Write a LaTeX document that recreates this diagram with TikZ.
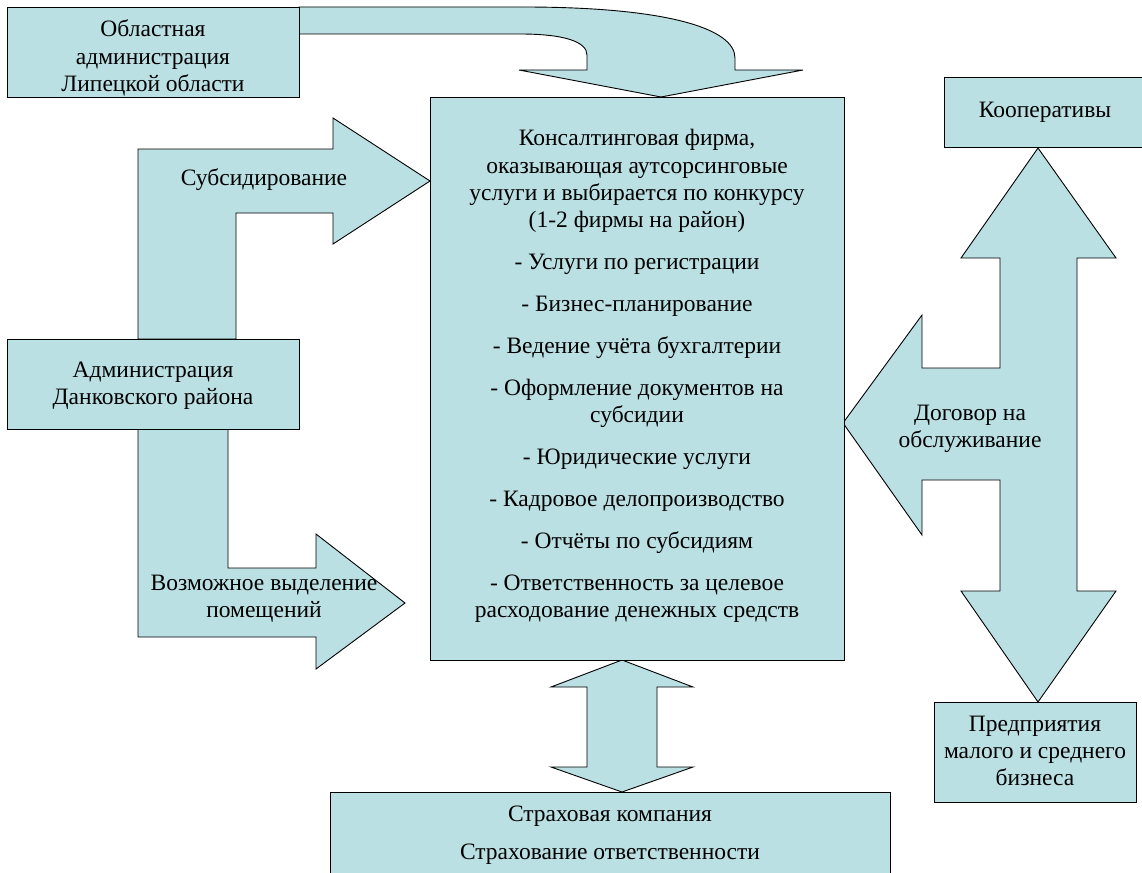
\documentclass[tikz,border=0pt]{standalone}
\usepackage{fontspec}
\setmainfont{Liberation Serif}
\definecolor{fillc}{RGB}{187,224,227}
\newcommand\fsz{\fontsize{23.5}{27.3}\selectfont}
\begin{document}
\begin{tikzpicture}[x=1pt,y=-1pt,
  shp/.style={fill=fillc, draw=black, line width=0.9pt, line join=miter},
  box/.style={shp, rectangle, inner sep=0pt, align=center, font=\fsz},
  lbl/.style={align=center, font=\fsz, inner sep=0pt}]
\useasboundingbox (0,0) rectangle (1142,872);
\fill[white] (0,0) rectangle (1142,872);

% curved arrow from the regional administration
\draw[shp] (299,7) -- (523,7) .. controls (665,7) and (735,28) .. (735,58)
  -- (735,70) -- (803,70) -- (661,97) -- (519,70) -- (587,70) -- (587,55)
  .. controls (587,42) and (565,34) .. (520,34) -- (299,34) -- cycle;

% subsidy arrow
\draw[shp] (138,339) -- (138,149) -- (333,149) -- (333,118) -- (430,181)
  -- (333,244) -- (333,213) -- (236,213) -- (236,339) -- cycle;
\node[lbl] (subs) at (264,180) {Субсидирование};

% premises arrow
\draw[shp] (138,429) -- (138,637) -- (316,637) -- (316,669) -- (405,603)
  -- (316,534) -- (316,568) -- (228,568) -- (228,429) -- cycle;
\node[lbl] (prem) at (264,599) {Возможное выделение\\помещений};

% right triple arrow
\draw[shp] (1038,148) -- (1116,258) -- (1077,258) -- (1077,591) -- (1116,591)
  -- (1038,702) -- (961,591) -- (1000,591) -- (1000,480) -- (922,480)
  -- (922,535) -- (843,423) -- (922,315) -- (922,368) -- (1000,368)
  -- (1000,258) -- (961,258) -- cycle;
\node[lbl] (dog) at (970,429) {Договор на\\обслуживание};

% bottom double arrow
\draw[shp] (622,660) -- (693,687) -- (657,687) -- (657,767) -- (693,767)
  -- (622,792) -- (551,767) -- (587,767) -- (587,687) -- (551,687) -- cycle;

% boxes
\node[box, minimum width=292pt, minimum height=90pt] (obl) at (153,52) {};
\node[lbl] (oblt) at (153,58) {Областная\\администрация\\Липецкой области};
\node[box, minimum width=292pt, minimum height=90pt] (adm) at (153,384) {};
\node[lbl] (admt) at (153,386) {Администрация\\Данковского района};
\node[box, minimum width=414pt, minimum height=563pt] (cons) at (637,378.5) {};
\node[lbl] (const) at (637,376)
  {Консалтинговая фирма,\\оказывающая аутсорсинговые\\услуги и выбирается по конкурсу\\(1-2 фирмы на район)\\[14.6pt]
   - Услуги по регистрации\\[14.6pt]
   - Бизнес-планирование\\[14.6pt]
   - Ведение учёта бухгалтерии\\[14.6pt]
   - Оформление документов на\\субсидии\\[14.6pt]
   - Юридические услуги\\[14.6pt]
   - Кадровое делопроизводство\\[14.6pt]
   - Отчёты по субсидиям\\[14.6pt]
   - Ответственность за целевое\\расходование денежных средств};
\node[box, minimum width=202pt, minimum height=70pt] (coop) at (1045,112)
  {Кооперативы};
\node[box, minimum width=202pt, minimum height=100pt] (pred) at (1035,752) {};
\node[lbl] (predt) at (1035,751) {Предприятия\\малого и среднего\\бизнеса};
\node[box, minimum width=560pt, minimum height=84pt] (ins) at (610,834) {};
\node[lbl] (inst) at (610,835) {Страховая компания\\[11pt]Страхование ответственности};
\end{tikzpicture}
\end{document}
